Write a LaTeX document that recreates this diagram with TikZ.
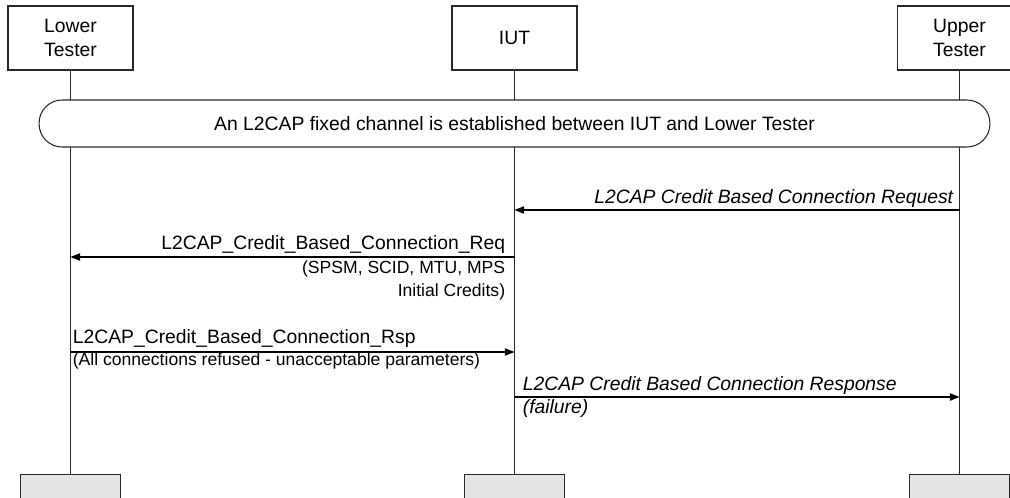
\documentclass[tikz,border=0pt]{standalone}
\usepackage{fontspec}
\setmainfont{Liberation Sans}
\usepackage{tikz}
\usetikzlibrary{positioning, arrows.meta}
\definecolor{endgray}{RGB}{228,228,228}
\definecolor{linegray}{RGB}{40,40,40}

\begin{document}
\begin{tikzpicture}[
    x=0.02cm, y=-0.02cm,
    every node/.style={font=\fontsize{11}{13.5}\selectfont},
    actorbox/.style={
        rectangle,
        draw=linegray,
        line width=0.6pt,
        align=center,
        minimum width=2.5cm,
        minimum height=1.28cm,
        fill=white
    },
    endbox/.style={
        rectangle,
        draw=linegray,
        line width=0.6pt,
        minimum width=2cm,
        minimum height=1.28cm,
        anchor=north,
        fill=endgray
    },
    statebar/.style={
        rectangle,
        rounded corners=0.46cm,
        draw=linegray,
        line width=0.6pt,
        minimum width=19.02cm,
        minimum height=0.94cm,
        fill=white
    },
    lifeline/.style={line width=0.6pt, draw=linegray},
    msg/.style={-{Triangle[length=5.5pt, width=4.2pt]}, line width=0.6pt, draw=black},
    lbl/.style={inner sep=0pt},
    sublbl/.style={inner sep=0pt, font=\fontsize{10}{12}\selectfont}
]
\useasboundingbox (0,0) rectangle (1010,497);

% actors
\node[actorbox] (lt) at (70.5,38) {Lower\\Tester};
\node[actorbox] (iut) at (514.5,38) {IUT};
\node[actorbox] (ut) at (959.5,38) {Upper\\Tester};

\node[endbox] (ltend) at (70.5,474) {};
\node[endbox] (iutend) at (514.5,474) {};
\node[endbox] (utend) at (959.5,474) {};

\draw[lifeline] (lt) -- (ltend);
\draw[lifeline] (iut) -- (iutend);
\draw[lifeline] (ut) -- (utend);

% fixed channel
\node[statebar] (chan) at (514.5,123.5) {An L2CAP fixed channel is established between IUT and Lower Tester};

% messages
\coordinate (ut1) at (ut |- 0,210);
\coordinate (iut1) at (iut |- 0,210);
\coordinate (iut2) at (iut |- 0,257);
\coordinate (lt2) at (lt |- 0,257);
\coordinate (lt3) at (lt |- 0,352);
\coordinate (iut3) at (iut |- 0,352);
\coordinate (iut4) at (iut |- 0,397);
\coordinate (ut4) at (ut |- 0,397);

\draw[msg] (ut1) -- (iut1);
\node[lbl, anchor=base east] (req1) at ([xshift=-0.12cm, yshift=0.14cm]ut1) {\itshape L2CAP Credit Based Connection Request};

\draw[msg] (iut2) -- (lt2);
\node[lbl, anchor=base east] (req2) at ([xshift=-0.18cm, yshift=0.16cm]iut2) {L2CAP\_Credit\_Based\_Connection\_Req};
\node[sublbl, anchor=base east] (req2a) at ([xshift=-0.18cm, yshift=-0.32cm]iut2) {(SPSM, SCID, MTU, MPS};
\node[sublbl, anchor=base east] (req2b) at ([xshift=-0.18cm, yshift=-0.8cm]iut2) {Initial Credits)};

\draw[msg] (lt3) -- (iut3);
\node[lbl, anchor=base west] (rsp3) at ([xshift=0.04cm, yshift=0.18cm]lt3) {L2CAP\_Credit\_Based\_Connection\_Rsp};
\node[sublbl, anchor=base west] (rsp3a) at ([xshift=0.04cm, yshift=-0.26cm]lt3) {(All connections refused - unacceptable parameters)};

\draw[msg] (iut4) -- (ut4);
\node[lbl, anchor=base west] (rsp4) at ([xshift=0.16cm, yshift=0.14cm]iut4) {\itshape L2CAP Credit Based Connection Response};
\node[lbl, anchor=base west] (rsp4a) at ([xshift=0.16cm, yshift=-0.32cm]iut4) {\itshape (failure)};

\end{tikzpicture}
\end{document}
